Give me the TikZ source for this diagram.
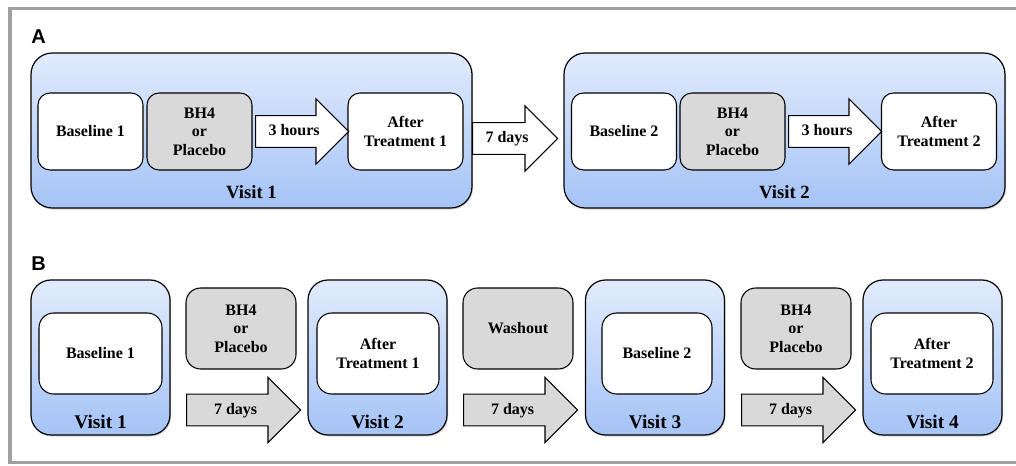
\documentclass[tikz,border=0pt]{standalone}
\usepackage{fontspec}
\setmainfont{Liberation Serif}
\newfontfamily\panelfont{Liberation Sans}
\usetikzlibrary{shapes.arrows,shadows}
\definecolor{visittop}{HTML}{E1EBFC}
\definecolor{visitbot}{HTML}{A5C3F6}
\definecolor{drugfill}{HTML}{D9D9D9}
\definecolor{framegray}{HTML}{A0A0A0}
\tikzset{
  visitbox/.style={draw=black, line width=0.9pt, rounded corners=16pt, top color=visittop, bottom color=visitbot,
    drop shadow={opacity=0.3, shadow xshift=0.8pt, shadow yshift=-1.2pt}},
  innerbox/.style={draw=black, line width=0.8pt, fill=white, rounded corners=9pt, align=center, inner sep=0pt,
    font=\fontsize{12}{14}\selectfont\bfseries},
  drugbox/.style={innerbox, fill=drugfill},
  dayarrow/.style={single arrow, draw=black, line width=0.8pt, fill=white, single arrow tip angle=90,
    single arrow head extend=12.5pt, text height=8.5pt, text depth=2.5pt, inner ysep=6pt, inner xsep=0pt,
    font=\fontsize{12}{14}\selectfont\bfseries},
  visitlbl/.style={font=\fontsize{14}{16}\selectfont\bfseries},
  panellbl/.style={font=\panelfont\bfseries\fontsize{15}{17}\selectfont}
}
\begin{document}
\begin{tikzpicture}[x=0.75pt, y=-0.75pt]
  \useasboundingbox (0,0) rectangle (1016,466);
  \draw[framegray, line width=2.5pt] (1016,8.5) -- (10,8.5) -- (10,462.5) -- (1016,462.5);
  \node[panellbl] (lblA) at (38.5,36.5) {A};
  \node[panellbl] (lblB) at (38.5,264) {B};

  \node[visitbox, minimum width=330.75pt, minimum height=116.25pt] (visA1) at (251.5,130.5) {};
  \node[visitbox, minimum width=330.75pt, minimum height=116.25pt] (visA2) at (784.5,130.5) {};
  \node[visitlbl] (lblA1) at (251.5,192) {Visit 1};
  \node[visitlbl] (lblA2) at (784.5,192) {Visit 2};
  \node[innerbox, minimum width=78.75pt, minimum height=57.75pt] (baseA1) at (90.5,131.5) {Baseline 1};
  \node[drugbox, minimum width=78.75pt, minimum height=57.75pt] (drugA1) at (199.5,131.5) {BH4\\or\\Placebo};
  \node[innerbox, minimum width=86.25pt, minimum height=57.75pt] (afterA1) at (405.5,131.5) {After\\Treatment 1};
  \node[innerbox, minimum width=78.75pt, minimum height=57.75pt] (baseA2) at (624,131.5) {Baseline 2};
  \node[drugbox, minimum width=78.75pt, minimum height=57.75pt] (drugA2) at (732.5,131.5) {BH4\\or\\Placebo};
  \node[innerbox, minimum width=86.25pt, minimum height=57.75pt] (afterA2) at (939,131.5) {After\\Treatment 2};
  \node[dayarrow, minimum height=69.75pt, anchor=tail] (hrsA1) at (255,131.5) {3 hours};
  \node[dayarrow, minimum height=69.75pt, anchor=tail] (hrsA2) at (788,131.5) {3 hours};
  \node[dayarrow, minimum height=63.75pt, anchor=tail] (dayA) at (472,138.5) {7 days};

  \foreach \i/\x in {1/100.5, 2/377.5, 3/655, 4/932.5}{
    \node[visitbox, rounded corners=15pt, minimum width=104.25pt, minimum height=116.25pt] (visB\i) at (\x,357.5) {};
    \node[visitlbl, font=\fontsize{14.5}{16}\selectfont\bfseries] (lblB\i) at (\x,422) {Visit \i};
  }
  \node[innerbox, rounded corners=11pt, minimum width=92.25pt, minimum height=60.75pt] (baseB1) at (100.5,353.5) {Baseline 1};
  \node[innerbox, rounded corners=11pt, minimum width=91.5pt, minimum height=60.75pt] (afterB1) at (378,353.5) {After\\Treatment 1};
  \node[innerbox, rounded corners=11pt, minimum width=82.5pt, minimum height=60.75pt] (baseB2) at (657,353.5) {Baseline 2};
  \node[innerbox, rounded corners=11pt, minimum width=91.5pt, minimum height=60.75pt] (afterB2) at (932,353.5) {After\\Treatment 2};
  \node[drugbox, rounded corners=11pt, minimum width=82.5pt, minimum height=60.75pt] (drugB1) at (241,328.5) {BH4\\or\\Placebo};
  \node[drugbox, rounded corners=11pt, minimum width=82.5pt, minimum height=60.75pt] (washB) at (518,328.5) {Washout};
  \node[drugbox, rounded corners=11pt, minimum width=82.5pt, minimum height=60.75pt] (drugB2) at (796,328.5) {BH4\\or\\Placebo};
  \foreach \n/\x in {dayB1/186, dayB2/463, dayB3/741}
    \node[dayarrow, fill=drugfill, minimum height=85.5pt, anchor=tail] (\n) at (\x,410) {7 days};
\end{tikzpicture}
\end{document}
